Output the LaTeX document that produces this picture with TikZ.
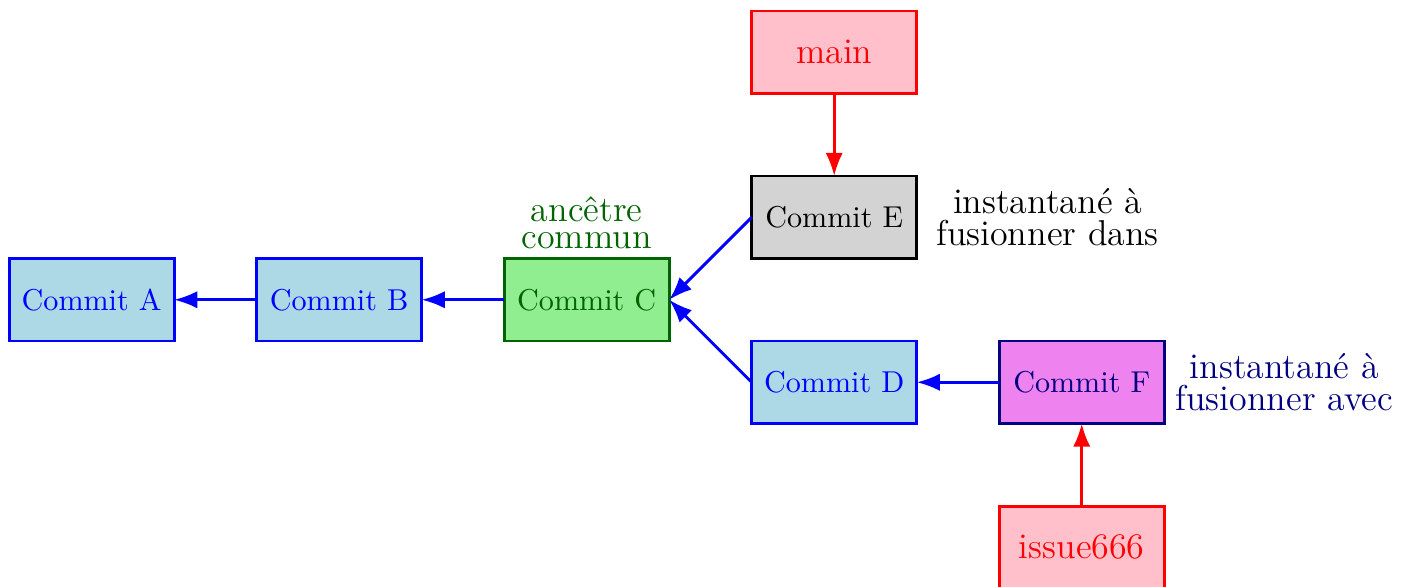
\documentclass[tikz,border=0pt]{standalone}
\usetikzlibrary{arrows.meta}
\definecolor{lightblue}{RGB}{173,216,230}
\definecolor{lightgreen}{RGB}{144,238,144}
\definecolor{darkgreen}{RGB}{0,100,0}
\definecolor{lightgray}{RGB}{211,211,211}
\definecolor{violet}{RGB}{238,130,238}
\definecolor{navy}{RGB}{0,0,128}
\definecolor{pink}{RGB}{255,192,203}
\begin{document}
\begin{tikzpicture}[line width=1pt]

        \useasboundingbox (-1.11,-3.48) rectangle (15.93,3.633);

        \begin{scope}[every node/.style={rectangle,draw,minimum width=2cm,minimum height=1cm,
            outer sep=0pt,font=\fontsize{10.4}{12.5}\selectfont}]
          \node[draw=blue,fill=lightblue,text=blue] (A) at (0,0)  {Commit A};
          \node[draw=blue,fill=lightblue,text=blue] (B) at (3,0)  {Commit B};
          \node[draw=darkgreen,fill=lightgreen,text=darkgreen] (C) at (6,0)  {Commit C};
          \node[draw=black,fill=lightgray] (E) at (9,1)  {Commit E};
          \node[draw=blue,fill=lightblue,text=blue] (D) at (9,-1) {Commit D};
          \node[draw=navy,fill=violet,text=navy] (F) at (12,-1) {Commit F};
          \node[draw=red,fill=pink,text=red,font=\fontsize{12.4}{14}\selectfont] (main) at (9,3)  {main};
          \node[draw=red,fill=pink,text=red,font=\fontsize{12.4}{14}\selectfont] (issue) at (12,-3) {issue666};
        \end{scope}

        \begin{scope}[every node/.style={align=center,font=\fontsize{12.4}{11}\selectfont,inner sep=2pt}]
          \node[above,text=darkgreen,inner sep=3pt,font=\fontsize{12.4}{9}\selectfont] (Clabel) at (C.north) {anc\^etre\\commun};
          \node[right,xshift=0.15cm] (Elabel) at (E.east) {instantan\'e \`a\\fusionner dans};
          \node[right,xshift=0.05cm,text=navy] (Flabel) at (F.east) {instantan\'e \`a\\fusionner avec};
        \end{scope}

        \begin{scope}[every edge/.style={draw,-{Latex[length=8pt,width=6pt]}}]
          \path[blue] (B) edge (A);
          \path[blue] (C) edge (B);
          \path[blue] (E.west) edge (C.east);
          \path[blue] (D.west) edge (C.east);
          \path[blue] (F) edge (D);
          \path[red] (main) edge (E);
          \path[red] (issue) edge (F);
        \end{scope}

      \end{tikzpicture}
\end{document}
